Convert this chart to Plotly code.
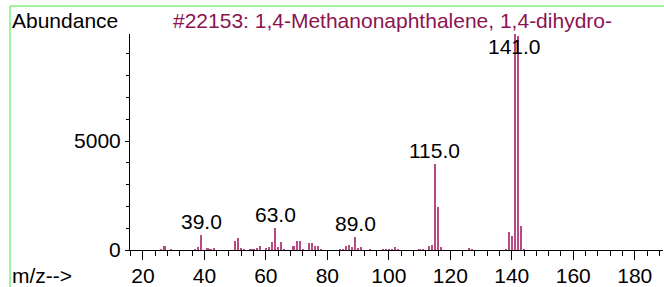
import plotly.graph_objects as go

# m/z values and abundances
mz = [26, 27, 29, 37, 38, 39, 41, 42, 43,
      50, 51, 52, 53, 55, 56, 57, 58,
      60, 61, 62, 63, 64, 65, 66,
      69, 70, 71, 72, 74, 75, 76, 77, 78,
      84, 85, 86, 87, 88, 89, 90, 91, 94,
      98, 99, 100, 101, 102, 103, 110, 111,
      113, 114, 115, 116, 117, 126, 127,
      138, 139, 140, 141, 142, 143, 144]
abundance = [40, 170, 40, 50, 130, 710, 85, 45, 105,
             410, 530, 70, 45, 60, 40, 100, 175,
             70, 120, 370, 1000, 145, 375, 60,
             175, 435, 413, 45, 321, 321, 175, 175, 55,
             40, 60, 168, 245, 138, 610, 77, 150, 30,
             55, 40, 40, 60, 125, 55, 30, 30,
             200, 230, 3945, 1960, 160, 92, 61,
             40, 830, 657, 9999, 9800, 1108, 45]

label_mz = [39, 63, 89, 115, 141]
title_text = "#22153: 1,4-Methanonaphthalene, 1,4-dihydro-"
x_range = [15.8, 189.2]
y_max = 9910

FONT = "Liberation Sans, Arial, sans-serif"
FS = 21

fig = go.Figure()
fig.add_trace(go.Bar(x=mz, y=abundance, width=0.7,
                     marker=dict(color="#B84A84", line=dict(width=0)),
                     hoverinfo="skip"))

annotations = []
lookup = dict(zip(mz, abundance))
for m in label_mz:
    v = lookup[m]
    if v > 0.9 * y_max:
        annotations.append(dict(x=m, y=y_max, xref="x", yref="y", text=f"{m:.1f}",
                                showarrow=False, yanchor="top", yshift=1,
                                font=dict(family=FONT, size=FS, color="black")))
    else:
        annotations.append(dict(x=m, y=v, xref="x", yref="y", text=f"{m:.1f}",
                                showarrow=False, yanchor="bottom", yshift=0,
                                font=dict(family=FONT, size=FS, color="black")))

annotations += [
    dict(x=-0.2251, y=1.0648, xref="paper", yref="paper", text="Abundance",
         showarrow=False, xanchor="left", yanchor="middle",
         font=dict(family=FONT, size=FS, color="black")),
    dict(x=0.0769, y=1.0648, xref="paper", yref="paper", text=title_text,
         showarrow=False, xanchor="left", yanchor="middle",
         font=dict(family=FONT, size=FS, color="#8C1450")),
    dict(x=-0.2251, y=-0.12, xref="paper", yref="paper", text="m/z-->",
         showarrow=False, xanchor="left", yanchor="middle",
         font=dict(family=FONT, size=FS, color="black")),
    dict(x=-0.2251, y=1.195, xref="paper", yref="paper", text="m/z-->",
         showarrow=False, xanchor="left", yanchor="middle",
         font=dict(family=FONT, size=FS, color="black")),
]

shapes = [
    dict(type="line", xref="paper", yref="paper", x0=-0.2251, x1=1.01, y0=1.1296, y1=1.1296,
         line=dict(color="#80F080", width=1.5)),
    dict(type="line", xref="paper", yref="paper", x0=-0.2251, x1=-0.2251, y0=1.1296, y1=-0.2,
         line=dict(color="#80F080", width=1.5)),
]

fig.update_layout(
    width=664, height=287,
    margin=dict(l=130, r=1, t=34, b=37, autoexpand=False),
    paper_bgcolor="white", plot_bgcolor="white",
    showlegend=False, bargap=0, hovermode=False,
    annotations=annotations, shapes=shapes,
    font=dict(family=FONT, size=FS, color="black"),
    xaxis=dict(range=x_range, tickmode="linear", tick0=0, dtick=20,
               ticks="outside", ticklen=9, tickcolor="black", tickwidth=1,
               showline=True, linecolor="black", linewidth=1,
               showgrid=False, zeroline=False, automargin=False,
               ticklabelstandoff=-2,
               tickfont=dict(family=FONT, size=FS, color="black"),
               minor=dict(ticks="outside", tick0=0, dtick=4, ticklen=5,
                          tickcolor="black", tickwidth=1, showgrid=False)),
    yaxis=dict(range=[0, y_max], tickmode="linear", tick0=0, dtick=5000,
               tickformat="d",
               ticks="outside", ticklen=4, tickcolor="black", tickwidth=1,
               showline=True, linecolor="black", linewidth=1,
               showgrid=False, zeroline=False, automargin=False,
               tickfont=dict(family=FONT, size=FS, color="black"),
               minor=dict(ticks="outside", tick0=0, dtick=1000, ticklen=3,
                          tickcolor="black", tickwidth=1, showgrid=False)),
)

fig.write_html("out.html", config={"displayModeBar": False, "staticPlot": True},
               post_script="document.body.style.margin='0';document.body.style.overflow='hidden';")
